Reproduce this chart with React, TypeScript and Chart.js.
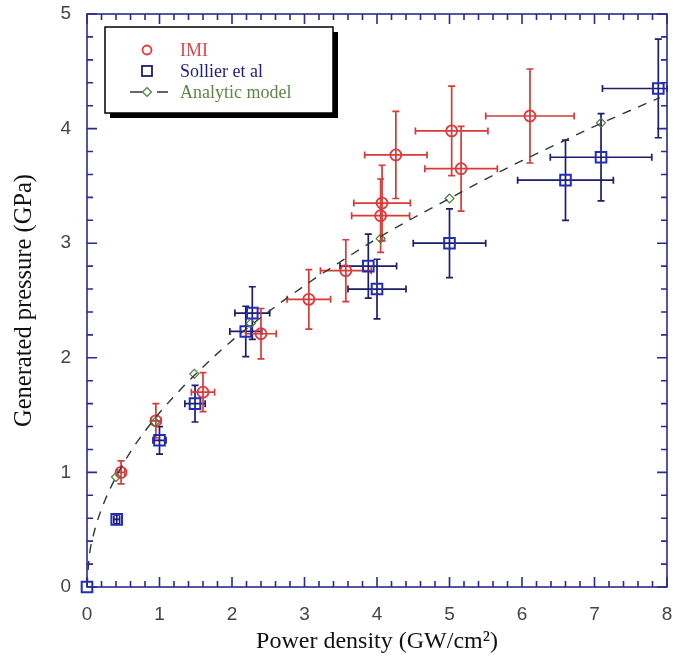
import React, { useEffect, useRef } from "react";
import { Chart, registerables } from "chart.js";

Chart.register(...registerables);

// IMI measurements
const imiX = [0.47, 0.95, 1.6, 2.4, 3.06, 3.57, 4.05, 4.07, 4.26, 5.03, 5.16, 6.11];
const imiY = [1.0, 1.45, 1.7, 2.21, 2.51, 2.76, 3.24, 3.35, 3.77, 3.98, 3.65, 4.11];
const imiXErr = [0.05, 0.07, 0.16, 0.21, 0.3, 0.35, 0.4, 0.39, 0.43, 0.5, 0.5, 0.61];
const imiYErr = [0.1, 0.15, 0.17, 0.22, 0.26, 0.27, 0.32, 0.33, 0.38, 0.39, 0.37, 0.41];

// Sollier et al measurements
const solX = [0, 0.41, 1.0, 1.49, 2.19, 2.28, 3.88, 4.0, 5.0, 6.6, 7.09, 7.88];
const solY = [0, 0.59, 1.28, 1.6, 2.23, 2.39, 2.8, 2.6, 3.0, 3.55, 3.75, 4.35];
const solXErr = [0, 0.04, 0.09, 0.14, 0.22, 0.24, 0.39, 0.4, 0.5, 0.66, 0.7, 0.77];
const solYErr = [0, 0.04, 0.12, 0.16, 0.22, 0.23, 0.28, 0.26, 0.3, 0.35, 0.38, 0.43];

// Analytic model markers
const modelX = [0.4, 0.94, 1.48, 2.26, 4.05, 5.0, 7.09];
const modelY = [0.96, 1.44, 1.86, 2.3, 3.04, 3.39, 4.05];

// Analytic model curve
const curveX = [0, 0.03, 0.08, 0.15, 0.25, 0.4, 0.6, 0.8, 1.0, 1.3, 1.6, 2.0, 2.5, 3.0, 3.5, 4.0, 4.5, 5.0, 5.5, 6.0, 6.5, 7.0, 7.5, 7.9];
const curveY = [0, 0.26, 0.43, 0.59, 0.76, 0.96, 1.18, 1.36, 1.52, 1.73, 1.92, 2.15, 2.4, 2.63, 2.84, 3.04, 3.22, 3.39, 3.56, 3.72, 3.87, 4.02, 4.16, 4.27];

const xTicksMajor = [0, 1, 2, 3, 4, 5, 6, 7, 8];
const yTicksMajor = [0, 1, 2, 3, 4, 5];

const FRAME = "#2b2b8e";
const IMI_RED = "#e2363c";
const IMI_BAR = "#d83a36";
const SOL_BLUE = "#1f2dbf";
const SOL_BAR = "#1d1d6e";
const MODEL_GREEN = "#4f7c3c";
const TICK_FONT = "'Liberation Sans Narrow', 'Liberation Sans', Arial, sans-serif";
const SERIF = "'Liberation Serif', 'Times New Roman', serif";

function drawErrors(chart: any, xs: number[], ys: number[], xe: number[], ye: number[], color: string) {
  const { ctx, scales } = chart;
  const sx = scales.x, sy = scales.y;
  const cap = 3.5;
  ctx.save();
  ctx.strokeStyle = color;
  ctx.lineWidth = 1.7;
  for (let i = 0; i < xs.length; i++) {
    const px = sx.getPixelForValue(xs[i]);
    const py = sy.getPixelForValue(ys[i]);
    if (xe[i] > 0) {
      const x1 = sx.getPixelForValue(Math.max(sx.min, xs[i] - xe[i]));
      const x2 = sx.getPixelForValue(Math.min(sx.max, xs[i] + xe[i]));
      ctx.beginPath();
      ctx.moveTo(x1, py); ctx.lineTo(x2, py);
      ctx.moveTo(x1, py - cap); ctx.lineTo(x1, py + cap);
      ctx.moveTo(x2, py - cap); ctx.lineTo(x2, py + cap);
      ctx.stroke();
    }
    if (ye[i] > 0) {
      const y1 = sy.getPixelForValue(ys[i] - ye[i]);
      const y2 = sy.getPixelForValue(ys[i] + ye[i]);
      ctx.beginPath();
      ctx.moveTo(px, y1); ctx.lineTo(px, y2);
      ctx.moveTo(px - cap, y1); ctx.lineTo(px + cap, y1);
      ctx.moveTo(px - cap, y2); ctx.lineTo(px + cap, y2);
      ctx.stroke();
    }
  }
  ctx.restore();
}

const errorPlugin = {
  id: "errorBars",
  beforeDatasetsDraw(chart: any) {
    drawErrors(chart, solX, solY, solXErr, solYErr, SOL_BAR);
    drawErrors(chart, imiX, imiY, imiXErr, imiYErr, IMI_BAR);
  },
};

const framePlugin = {
  id: "frame",
  afterDatasetsDraw(chart: any) {
    const { ctx, chartArea: a, scales } = chart;
    const sx = scales.x, sy = scales.y;
    ctx.save();
    ctx.strokeStyle = FRAME;
    ctx.lineWidth = 1.6;
    ctx.strokeRect(a.left, a.top, a.right - a.left, a.bottom - a.top);
    ctx.beginPath();
    for (let k = 0; k < xTicksMajor.length; k++) {
      for (let m = 0; m < 5; m++) {
        if (k === xTicksMajor.length - 1 && m > 0) break;
        const v = xTicksMajor[k] + m * 0.2;
        const p = sx.getPixelForValue(v);
        const len = m === 0 ? 10 : 6;
        ctx.moveTo(p, a.bottom); ctx.lineTo(p, a.bottom - len);
        ctx.moveTo(p, a.top); ctx.lineTo(p, a.top + len);
      }
    }
    for (let k = 0; k < yTicksMajor.length; k++) {
      for (let m = 0; m < 5; m++) {
        if (k === yTicksMajor.length - 1 && m > 0) break;
        const v = yTicksMajor[k] + m * 0.2;
        const p = sy.getPixelForValue(v);
        const len = m === 0 ? 10 : 6;
        ctx.moveTo(a.left, p); ctx.lineTo(a.left + len, p);
        ctx.moveTo(a.right, p); ctx.lineTo(a.right - len, p);
      }
    }
    ctx.stroke();
    ctx.restore();
  },
};

const legendPlugin = {
  id: "boxLegend",
  afterDraw(chart: any) {
    const { ctx } = chart;
    const bx = 105, by = 27, bw = 228, bh = 86, sh = 5;
    ctx.save();
    ctx.fillStyle = "#000";
    ctx.fillRect(bx + sh, by + sh, bw, bh);
    ctx.fillStyle = "#fff";
    ctx.fillRect(bx, by, bw, bh);
    ctx.strokeStyle = "#000";
    ctx.lineWidth = 1.5;
    ctx.strokeRect(bx, by, bw, bh);

    const mx = 147;
    ctx.strokeStyle = IMI_RED;
    ctx.lineWidth = 1.8;
    ctx.beginPath();
    ctx.arc(mx, 50, 4.5, 0, Math.PI * 2);
    ctx.stroke();
    ctx.strokeStyle = SOL_BAR;
    ctx.lineWidth = 1.8;
    ctx.strokeRect(mx - 5, 66, 10, 10);
    ctx.strokeStyle = "#333";
    ctx.lineWidth = 1.4;
    ctx.beginPath();
    ctx.moveTo(130, 92); ctx.lineTo(142, 92);
    ctx.moveTo(157, 92); ctx.lineTo(168, 92);
    ctx.stroke();
    ctx.strokeStyle = MODEL_GREEN;
    ctx.lineWidth = 1.2;
    ctx.beginPath();
    ctx.moveTo(mx - 4.5, 92); ctx.lineTo(mx, 87.5); ctx.lineTo(mx + 4.5, 92); ctx.lineTo(mx, 96.5); ctx.closePath();
    ctx.stroke();

    ctx.font = `18px ${SERIF}`;
    ctx.textBaseline = "middle";
    ctx.textAlign = "left";
    ctx.fillStyle = "#e0464e";
    ctx.fillText("IMI", 180, 51);
    ctx.fillStyle = "#1d1d80";
    ctx.fillText("Sollier et al", 180, 72);
    ctx.fillStyle = "#5f8545";
    ctx.fillText("Analytic model", 180, 93);
    ctx.restore();
  },
};

export default function App() {
  const ref = useRef<HTMLCanvasElement>(null);
  useEffect(() => {
    document.body.style.margin = "0";
    const toPts = (xs: number[], ys: number[]) => xs.map((x, i) => ({ x, y: ys[i] }));
    const chart = new Chart(ref.current as HTMLCanvasElement, {
      type: "scatter",
      data: {
        datasets: [
          {
            type: "line",
            label: "curve",
            data: toPts(curveX, curveY),
            borderColor: "#2e3a2e",
            borderWidth: 1.4,
            borderDash: [9, 8],
            pointRadius: 0,
            fill: false,
            cubicInterpolationMode: "monotone",
          } as any,
          {
            label: "Analytic model",
            data: toPts(modelX, modelY),
            pointStyle: "rectRot",
            pointRadius: 4.5,
            borderColor: MODEL_GREEN,
            backgroundColor: "rgba(0,0,0,0)",
            borderWidth: 1.2,
          },
          {
            label: "Sollier et al",
            data: toPts(solX, solY),
            pointStyle: "rect",
            pointRadius: 7.5,
            borderColor: SOL_BLUE,
            backgroundColor: "rgba(0,0,0,0)",
            borderWidth: 2,
            clip: false,
          } as any,
          {
            label: "IMI",
            data: toPts(imiX, imiY),
            pointStyle: "circle",
            pointRadius: 5.5,
            borderColor: IMI_RED,
            backgroundColor: "rgba(0,0,0,0)",
            borderWidth: 1.8,
          },
        ],
      },
      options: {
        responsive: false,
        animation: false,
        events: [],
        layout: { padding: { top: 14, right: 14, left: 0, bottom: 0 } },
        plugins: { legend: { display: false }, tooltip: { enabled: false } },
        scales: {
          x: {
            type: "linear",
            min: 0,
            max: 8,
            ticks: { stepSize: 1, padding: 16, color: "#444", font: { family: TICK_FONT, size: 19 } },
            grid: { display: false, drawTicks: false },
            border: { display: false },
            title: {
              display: true,
              text: "Power density (GW/cm²)",
              color: "#111",
              font: { family: SERIF, size: 24 },
              padding: { top: 0, bottom: 5 },
            },
            afterFit: (s: any) => { s.height = 74; s.paddingLeft = 0; s.paddingRight = 0; },
          },
          y: {
            type: "linear",
            min: 0,
            max: 5,
            ticks: { stepSize: 1, padding: 16, color: "#444", font: { family: TICK_FONT, size: 19 } },
            grid: { display: false, drawTicks: false },
            border: { display: false },
            title: {
              display: true,
              text: "Generated pressure (GPa)",
              color: "#111",
              font: { family: SERIF, size: 24.5 },
              padding: { top: 10, bottom: 0 },
            },
            afterFit: (s: any) => { s.width = 87; s.paddingTop = 0; s.paddingBottom = 0; },
          },
        },
      },
      plugins: [errorPlugin, framePlugin, legendPlugin],
    });
    return () => chart.destroy();
  }, []);
  return (
    <div style={{ position: "absolute", left: 0, top: 0, width: 681, height: 661 }}>
      <canvas ref={ref} width={681} height={661} />
    </div>
  );
}
